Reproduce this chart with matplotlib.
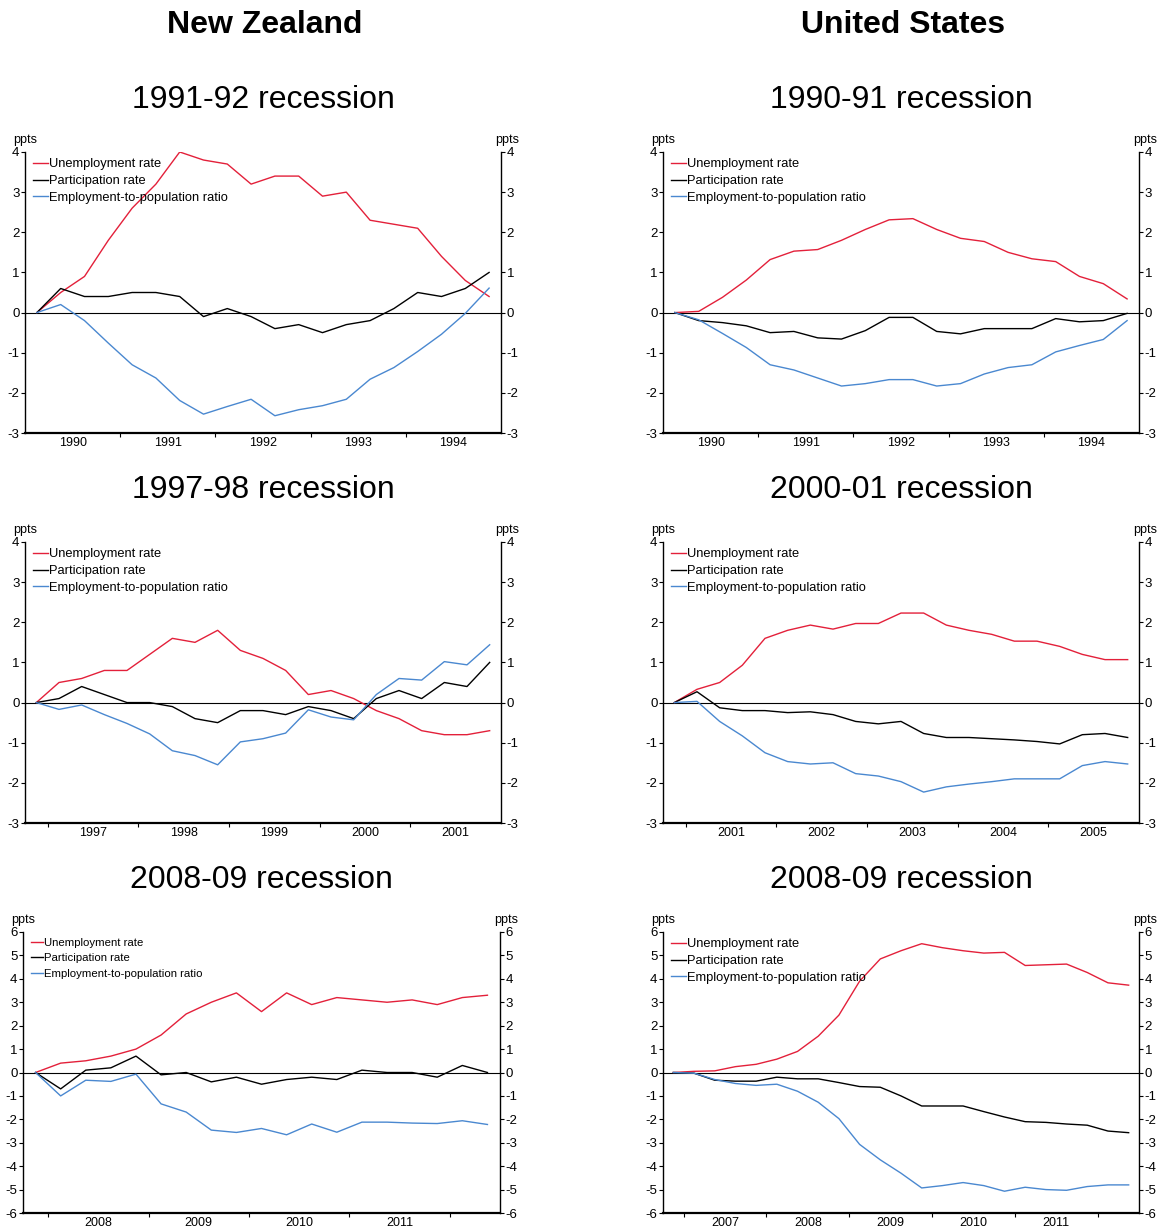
import numpy as np
import pandas as pd
import matplotlib
matplotlib.use('Agg')
import matplotlib.pyplot as plt
from matplotlib.ticker import FixedLocator, NullFormatter

plt.rcParams['font.family'] = ['Liberation Sans', 'DejaVu Sans']
plt.rcParams['axes.unicode_minus'] = False

RED = '#E3203A'
BLUE = '#4A88D0'

# Changes since the start of each recession (percentage points), quarterly
# New Zealand 1991-92 recession: 1990Q1 - 1994Q4
nz91_start = '1990Q1'
nz91_unemp = [0, 0.5, 0.9, 1.8, 2.6, 3.2, 4.0, 3.8, 3.7, 3.2, 3.4, 3.4, 2.9, 3.0, 2.3, 2.2, 2.1, 1.4, 0.8, 0.4]
nz91_part = [0, 0.6, 0.4, 0.4, 0.5, 0.5, 0.4, -0.1, 0.1, -0.1, -0.4, -0.3, -0.5, -0.3, -0.2, 0.1, 0.5, 0.4, 0.6, 1.0]
nz91_emp = [0, 0.2, -0.2, -0.76, -1.3, -1.63, -2.19, -2.53, -2.34, -2.16, -2.57, -2.42, -2.32, -2.16, -1.66, -1.37, -0.97, -0.54, -0.02, 0.61]

# United States 1990-91 recession: 1990Q1 - 1994Q4
us90_start = '1990Q1'
us90_unemp = [0, 0.03, 0.38, 0.81, 1.32, 1.53, 1.57, 1.8, 2.07, 2.31, 2.34, 2.07, 1.85, 1.77, 1.5, 1.34, 1.27, 0.9, 0.72, 0.34]
us90_part = [0, -0.2, -0.25, -0.33, -0.5, -0.47, -0.63, -0.66, -0.45, -0.12, -0.12, -0.47, -0.53, -0.4, -0.4, -0.4, -0.15, -0.23, -0.2, -0.02]
us90_emp = [0, -0.18, -0.52, -0.87, -1.3, -1.43, -1.63, -1.83, -1.77, -1.67, -1.67, -1.83, -1.77, -1.53, -1.37, -1.3, -0.98, -0.82, -0.67, -0.2]

# New Zealand 1997-98 recession: 1996Q4 - 2001Q4
nz97_start = '1996Q4'
nz97_unemp = [0, 0.5, 0.6, 0.8, 0.8, 1.2, 1.6, 1.5, 1.8, 1.3, 1.1, 0.8, 0.2, 0.3, 0.1, -0.2, -0.4, -0.7, -0.8, -0.8, -0.7]
nz97_part = [0, 0.1, 0.4, 0.2, 0.0, 0.0, -0.1, -0.4, -0.5, -0.2, -0.2, -0.3, -0.1, -0.2, -0.4, 0.1, 0.3, 0.1, 0.5, 0.4, 1.0]
nz97_emp = [0, -0.17, -0.06, -0.3, -0.52, -0.78, -1.2, -1.32, -1.55, -0.98, -0.9, -0.76, -0.18, -0.36, -0.43, 0.2, 0.6, 0.56, 1.02, 0.94, 1.44]

# United States 2000-01 recession: 2000Q4 - 2005Q4
us00_start = '2000Q4'
us00_unemp = [0, 0.33, 0.5, 0.93, 1.6, 1.8, 1.93, 1.83, 1.97, 1.97, 2.23, 2.23, 1.93, 1.8, 1.7, 1.53, 1.53, 1.4, 1.2, 1.07, 1.07]
us00_part = [0, 0.27, -0.13, -0.2, -0.2, -0.25, -0.23, -0.3, -0.47, -0.53, -0.47, -0.77, -0.87, -0.87, -0.9, -0.93, -0.97, -1.03, -0.8, -0.77, -0.87]
us00_emp = [0, 0.03, -0.47, -0.83, -1.25, -1.47, -1.53, -1.5, -1.77, -1.83, -1.97, -2.23, -2.1, -2.03, -1.97, -1.9, -1.9, -1.9, -1.57, -1.47, -1.53]

# New Zealand 2008-09 recession: 2007Q4 - 2012Q2
nz08_start = '2007Q4'
nz08_unemp = [0, 0.4, 0.5, 0.7, 1.0, 1.6, 2.5, 3.0, 3.4, 2.6, 3.4, 2.9, 3.2, 3.1, 3.0, 3.1, 2.9, 3.2, 3.3]
nz08_part = [0, -0.7, 0.1, 0.2, 0.7, -0.1, 0.0, -0.4, -0.2, -0.5, -0.3, -0.2, -0.3, 0.1, 0.0, 0.0, -0.2, 0.3, 0.0]
nz08_emp = [0, -1.0, -0.33, -0.38, -0.07, -1.34, -1.69, -2.46, -2.56, -2.39, -2.66, -2.2, -2.55, -2.12, -2.12, -2.16, -2.18, -2.06, -2.22]

# United States 2008-09 recession: 2006Q4 - 2012Q2
us08_start = '2006Q4'
us08_unemp = [0, 0.05, 0.07, 0.25, 0.35, 0.57, 0.9, 1.55, 2.45, 3.9, 4.85, 5.2, 5.5, 5.33, 5.2, 5.1, 5.13, 4.57, 4.6, 4.63, 4.27, 3.83, 3.73]
us08_part = [0, -0.03, -0.33, -0.37, -0.37, -0.2, -0.27, -0.27, -0.43, -0.6, -0.63, -1.0, -1.43, -1.43, -1.43, -1.67, -1.9, -2.1, -2.13, -2.2, -2.25, -2.5, -2.57]
us08_emp = [0, -0.03, -0.3, -0.47, -0.55, -0.5, -0.8, -1.27, -1.97, -3.07, -3.73, -4.3, -4.93, -4.83, -4.7, -4.83, -5.07, -4.9, -5.0, -5.03, -4.87, -4.8, -4.8]

labels = ['Unemployment rate', 'Participation rate', 'Employment-to-population ratio']

# panel: (title, start, series, y range, axes box in pixels [left, top, right, bottom])
panels = [
    ('1991-92 recession', nz91_start, (nz91_unemp, nz91_part, nz91_emp), (-3, 4), (25, 152, 501, 433)),
    ('1990-91 recession', us90_start, (us90_unemp, us90_part, us90_emp), (-3, 4), (663, 152, 1139, 433)),
    ('1997-98 recession', nz97_start, (nz97_unemp, nz97_part, nz97_emp), (-3, 4), (25, 542, 501, 823)),
    ('2000-01 recession', us00_start, (us00_unemp, us00_part, us00_emp), (-3, 4), (663, 542, 1139, 823)),
    ('2008-09 recession', nz08_start, (nz08_unemp, nz08_part, nz08_emp), (-6, 6), (23, 932, 500, 1213)),
    ('2008-09 recession', us08_start, (us08_unemp, us08_part, us08_emp), (-6, 6), (663, 932, 1139, 1213)),
]

W, H = 1170, 1231
fig = plt.figure(figsize=(W / 100, H / 100), dpi=100)

fig.text(265 / W, 1 - 25 / H, 'New Zealand', fontsize=23, fontweight='bold', ha='center', va='center')
fig.text(903 / W, 1 - 25 / H, 'United States', fontsize=23, fontweight='bold', ha='center', va='center')

for i, (title, start, series, ylim, box) in enumerate(panels):
    l, t, r, b = box
    ax = fig.add_axes([l / W, 1 - b / H, (r - l) / W, (b - t) / H])

    n = len(series[0])
    q = pd.period_range(start, periods=n, freq='Q')
    x = q.year + (q.quarter - 1) / 4 + 0.125

    for vals, col, lab in zip(series, [RED, 'black', BLUE], labels):
        ax.plot(x, vals, color=col, lw=1.0, label=lab)
    ax.axhline(0, color='black', lw=0.8, zorder=1)

    x0, x1 = x[0] - 0.125, x[-1] + 0.125
    ax.set_xlim(x0, x1)
    ax.set_ylim(*ylim)

    years = np.arange(int(np.ceil(x0)), int(np.floor(x1)) + 1)
    bounds = [y for y in years if x0 < y < x1]
    full = [y + 0.5 for y in years if y >= x0 and y + 1 <= x1 + 1e-9]
    ax.xaxis.set_major_locator(FixedLocator(bounds))
    ax.xaxis.set_major_formatter(NullFormatter())
    ax.xaxis.set_minor_locator(FixedLocator(full))
    ax.set_xticklabels([str(int(v)) for v in full], minor=True)
    ax.tick_params(axis='x', which='major', length=3, width=0.8, direction='out')
    ax.tick_params(axis='x', which='minor', length=0, labelsize=9, pad=3)

    ax.set_yticks(np.arange(ylim[0], ylim[1] + 1))
    ax.tick_params(axis='y', left=True, right=True, labelleft=True, labelright=True,
                   length=3, width=0.8, labelsize=9.5, pad=1, direction='out')

    ax.spines['top'].set_visible(False)
    ax.spines['bottom'].set_linewidth(1.6)
    ax.spines['left'].set_linewidth(1.0)
    ax.spines['right'].set_linewidth(1.0)

    ax.text(0, 1.02, 'ppts', transform=ax.transAxes, ha='center', va='bottom', fontsize=9)
    ax.text(1.012, 1.02, 'ppts', transform=ax.transAxes, ha='center', va='bottom', fontsize=9)

    fs = 8.2 if i == 4 else 9.3
    ls = 0.5 if i == 4 else 0.35
    ax.legend(loc='upper left', bbox_to_anchor=(0.004, 1.0), frameon=False, fontsize=fs,
              handlelength=1.1, handletextpad=0.1, labelspacing=ls, borderaxespad=0.1)

    fig.text((l + r) / 2 / W, 1 - (t - 52) / H, title, fontsize=23, ha='center', va='center')

fig.savefig('out.png', dpi=100)
